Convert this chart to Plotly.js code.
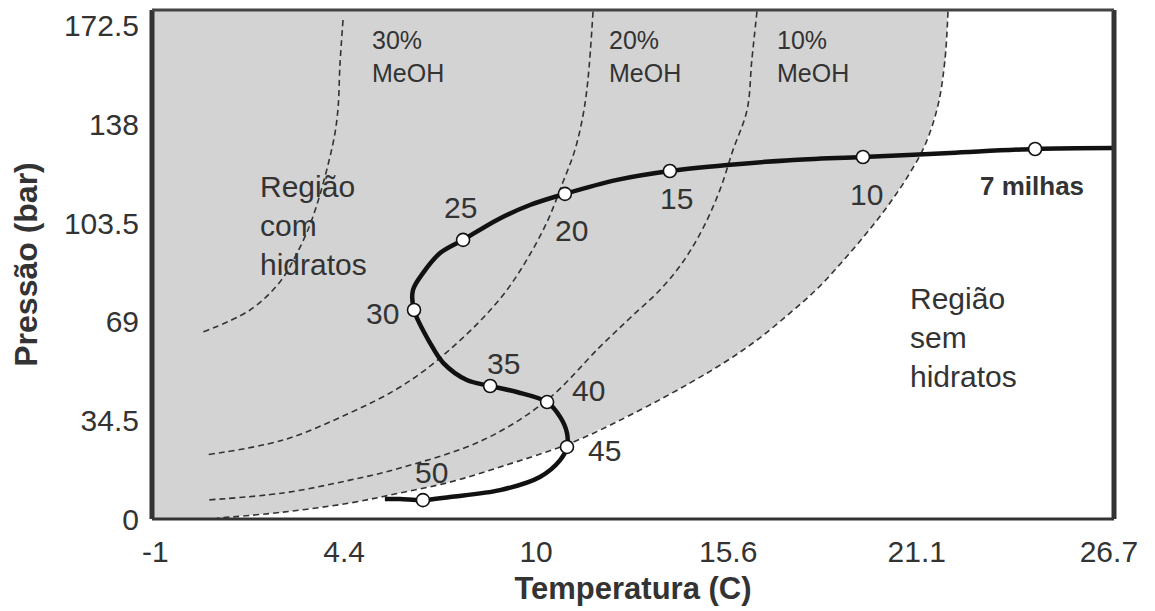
<!DOCTYPE html>
<html>
<head>
<meta charset="utf-8">
<script src="https://cdn.plot.ly/plotly-3.0.1.min.js"></script>
<style>html,body{margin:0;padding:0;background:#fff;}#chart{width:1155px;height:611px;}</style>
</head>
<body>
<div id="chart"></div>
<script>
// ---- Data (temperature in C, pressure in bar) ----
const tempTicks = [-1.1, 4.4, 10, 15.6, 21.1, 26.7];
const tempTickText = ['-1', '4.4', '10', '15.6', '21.1', '26.7'];
const presTicks = [0, 34.5, 69, 103.5, 138, 172.5];
const presTickText = ['0', '34.5', '69', '103.5', '138', '172.5'];

// Hydrate curve without inhibitor (boundary of the hydrate region)
const curve0X = [22.01, 21.92, 21.72, 21.34, 20.81, 20.23, 19.59, 18.92, 18.22, 17.40, 16.44, 15.51, 14.49, 13.03, 11.08, 8.95, 7.49, 6.03, 4.57, 2.62, 0.70];
const curve0Y = [177.5, 160.5, 144.8, 130.8, 119.3, 109.1, 99.3, 89.9, 80.8, 72.0, 62.6, 54.9, 47.6, 38.1, 26.9, 18.2, 12.9, 9.1, 5.6, 2.4, 0.3];

// 10% MeOH
const curve10X = [16.44, 16.29, 16.15, 15.74, 15.36, 14.87, 14.28, 13.61, 12.74, 11.86, 10.32, 8.45, 6.03, 4.57, 2.62, 0.35];
const curve10Y = [177.5, 160.5, 143.0, 129.0, 115.1, 101.8, 89.9, 80.1, 70.3, 60.2, 41.6, 27.6, 17.8, 13.6, 9.1, 6.6];

// 20% MeOH
const curve20X = [11.66, 11.51, 11.37, 11.13, 10.75, 10.32, 9.76, 9.15, 8.45, 7.63, 6.76, 5.89, 4.57, 2.62, 0.35];
const curve20Y = [177.5, 153.5, 141.3, 129.0, 116.8, 103.9, 91.3, 80.1, 70.3, 60.8, 52.1, 45.1, 37.1, 27.6, 22.4];

// 30% MeOH
const curve30X = [4.37, 4.28, 4.22, 4.08, 3.49, 3.00, 2.53, 1.66, 0.29];
const curve30Y = [174.5, 158.8, 143.0, 131.5, 105.6, 92.3, 82.9, 73.1, 65.4];

// Pipeline temperature/pressure profile
const pipeX = [26.85, 24.55, 22.07, 19.53, 17.40, 15.57, 13.90, 12.36, 10.84, 9.82, 8.86, 7.87, 7.20, 6.70, 6.41, 6.44, 6.91, 7.29, 7.98, 8.66, 9.44, 10.32, 10.70, 10.90, 10.90, 10.70, 10.11, 8.95, 7.49, 6.70, 6.03, 5.59];
const pipeY = [129.7, 129.4, 128.0, 126.6, 125.5, 123.8, 121.7, 118.6, 113.7, 109.8, 104.6, 97.6, 93.0, 86.0, 80.1, 73.1, 61.5, 54.6, 48.6, 46.5, 44.4, 40.9, 35.7, 30.1, 25.2, 20.6, 14.7, 10.1, 7.7, 6.6, 7.0, 7.0];

// Distance markers along the pipeline
const markerLabels = ['7 milhas', '10', '15', '20', '25', '30', '35', '40', '45', '50'];
const markerX = [24.55, 19.53, 13.90, 10.84, 7.87, 6.44, 8.66, 10.32, 10.90, 6.70];
const markerY = [129.4, 126.6, 121.7, 113.7, 97.6, 73.1, 46.5, 40.9, 25.2, 6.6];

// ---- Layout / style (not data) ----
const xRange = [-1.2, 26.85];
const yRange = [0, 178];
const labelShift = [[-3, -37], [4, -38], [7, -28], [7, -37], [-3, 32], [-32, -4], [13, 23], [41, 12], [38, -4], [9, 28]];
const FONT = 'Liberation Sans, Arial, Helvetica, sans-serif';
const TXT = '#333';

const dashStyle = {color: '#333', width: 1.6, dash: '6px,4px', shape: 'spline', smoothing: 1};

const traces = [
  { // hydrate region shading
    x: [xRange[0], curve0X[0]].concat(curve0X, [curve0X[curve0X.length - 1], xRange[0]]),
    y: [yRange[1], yRange[1]].concat(curve0Y, [0, 0]),
    mode: 'lines', fill: 'toself', fillcolor: '#d3d3d3',
    line: {width: 0}, hoverinfo: 'skip', showlegend: false
  },
  {x: curve0X, y: curve0Y, mode: 'lines', line: dashStyle, showlegend: false},
  {x: curve10X, y: curve10Y, mode: 'lines', line: dashStyle, showlegend: false},
  {x: curve20X, y: curve20Y, mode: 'lines', line: dashStyle, showlegend: false},
  {x: curve30X, y: curve30Y, mode: 'lines', line: dashStyle, showlegend: false},
  {x: pipeX, y: pipeY, mode: 'lines', line: {color: '#111', width: 4.5, shape: 'spline', smoothing: 0.9}, showlegend: false},
  {x: markerX, y: markerY, mode: 'markers', marker: {size: 13, color: '#fff', line: {color: '#111', width: 1.6}}, showlegend: false}
];

const annotations = markerLabels.map((t, i) => ({
  x: markerX[i], y: markerY[i], xref: 'x', yref: 'y', text: t, showarrow: false,
  xshift: labelShift[i][0], yshift: labelShift[i][1], xanchor: 'center', yanchor: 'middle',
  font: i === 0 ? {family: FONT, size: 26, color: TXT, weight: 'bold'} : {family: FONT, size: 30, color: TXT}
}));

annotations.push(
  {x: 1.89, y: 102.8, xref: 'x', yref: 'y', text: 'Região<br>com<br>hidratos', showarrow: false, xanchor: 'left', yanchor: 'middle', align: 'left', font: {family: FONT, size: 30, color: TXT}},
  {x: 20.84, y: 63.3, xref: 'x', yref: 'y', text: 'Região<br>sem<br>hidratos', showarrow: false, xanchor: 'left', yanchor: 'middle', align: 'left', font: {family: FONT, size: 30, color: TXT}},
  {x: 5.16, y: 161.6, xref: 'x', yref: 'y', text: '30%<br>MeOH', showarrow: false, xanchor: 'left', yanchor: 'middle', align: 'left', font: {family: FONT, size: 25, color: TXT}},
  {x: 12.07, y: 161.6, xref: 'x', yref: 'y', text: '20%<br>MeOH', showarrow: false, xanchor: 'left', yanchor: 'middle', align: 'left', font: {family: FONT, size: 25, color: TXT}},
  {x: 16.97, y: 161.6, xref: 'x', yref: 'y', text: '10%<br>MeOH', showarrow: false, xanchor: 'left', yanchor: 'middle', align: 'left', font: {family: FONT, size: 25, color: TXT}}
);

const frame = [
  {type: 'line', xref: 'paper', yref: 'paper', x0: 0, x1: 0, y0: 0, y1: 1, line: {color: '#333', width: 5}},
  {type: 'line', xref: 'paper', yref: 'paper', x0: 1, x1: 1, y0: 0, y1: 1, line: {color: '#333', width: 5}},
  {type: 'line', xref: 'paper', yref: 'paper', x0: 0, x1: 1, y0: 1, y1: 1, line: {color: '#444', width: 3}},
  {type: 'line', xref: 'paper', yref: 'paper', x0: 0, x1: 1, y0: 0, y1: 0, line: {color: '#333', width: 3}}
];

const layout = {
  width: 1155, height: 611,
  margin: {l: 152, r: 41, t: 10, b: 92},
  paper_bgcolor: '#fff', plot_bgcolor: '#fff',
  showlegend: false,
  xaxis: {
    range: xRange, tickvals: tempTicks, ticktext: tempTickText,
    showgrid: false, zeroline: false, showline: false, ticks: '',
    ticklabelstandoff: 12,
    tickfont: {family: FONT, size: 30, color: TXT},
    title: {text: 'Temperatura (C)', standoff: 10, font: {family: FONT, size: 31, color: TXT, weight: 'bold'}}
  },
  yaxis: {
    range: yRange, tickvals: presTicks, ticktext: presTickText,
    showgrid: false, zeroline: false, showline: false, ticks: '',
    ticklabelstandoff: 12,
    tickfont: {family: FONT, size: 30, color: TXT},
    title: {text: 'Pressão (bar)', standoff: 16, font: {family: FONT, size: 32, color: TXT, weight: 'bold'}}
  },
  shapes: frame,
  annotations: annotations
};

Plotly.newPlot('chart', traces, layout, {displayModeBar: false, staticPlot: true});
</script>
</body>
</html>
